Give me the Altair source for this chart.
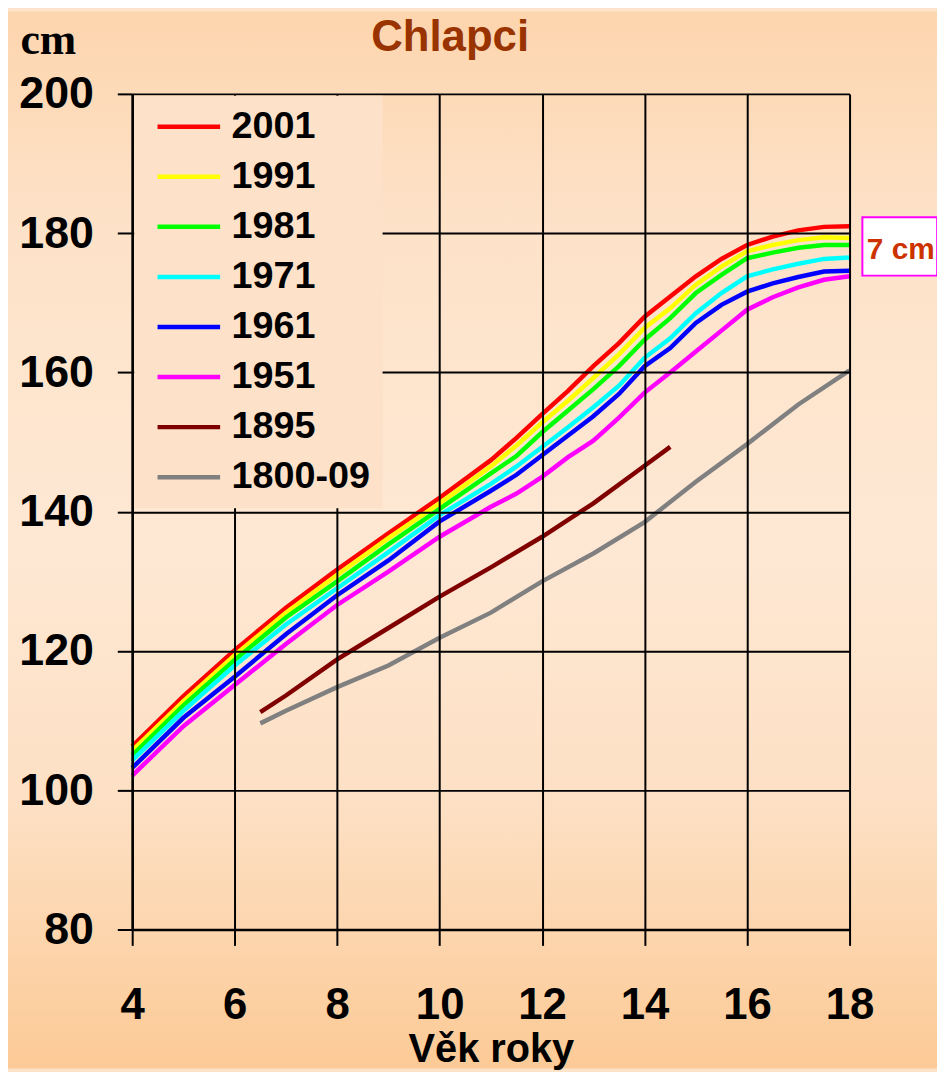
import altair as alt
import pandas as pd

# ---------------- data ----------------
ages_modern = [4, 5, 6, 7, 8, 9, 10, 11, 11.5, 12, 12.5, 13, 13.5, 14, 14.5, 15, 15.5, 16, 16.5, 17, 17.5, 18]
h_2001 = [106.3, 113.5, 120.1, 126.2, 131.7, 136.9, 142.0, 147.4, 150.6, 154.0, 157.3, 160.9, 164.2, 168.0, 170.9, 173.8, 176.3, 178.3, 179.5, 180.4, 180.9, 181.0]
h_1991 = [105.7, 112.8, 119.4, 125.5, 130.9, 136.2, 141.2, 146.5, 149.5, 152.8, 155.9, 159.2, 162.6, 166.4, 169.2, 172.6, 175.2, 177.4, 178.3, 179.0, 179.4, 179.3]
h_1981 = [105.0, 112.2, 118.7, 124.8, 130.0, 135.3, 140.4, 145.5, 148.0, 151.4, 154.5, 157.6, 160.9, 164.7, 167.8, 171.4, 174.0, 176.4, 177.2, 177.9, 178.3, 178.3]
h_1971 = [104.3, 111.4, 117.9, 123.8, 129.0, 134.2, 139.5, 144.0, 146.5, 149.3, 152.1, 155.0, 158.1, 162.1, 164.9, 168.5, 171.4, 173.8, 174.8, 175.6, 176.3, 176.5]
h_1961 = [103.2, 110.4, 116.3, 122.4, 128.0, 133.0, 138.6, 143.0, 145.3, 148.1, 150.9, 153.7, 156.9, 160.9, 163.5, 167.1, 169.7, 171.6, 172.8, 173.7, 174.5, 174.6]
h_1951 = [102.1, 109.2, 115.1, 121.0, 126.6, 131.4, 136.4, 140.7, 142.6, 145.0, 147.8, 150.2, 153.5, 157.1, 160.0, 163.0, 166.0, 169.0, 170.8, 172.2, 173.3, 173.8]

ages_1895 = [6.5, 7, 8, 9, 10, 11, 12, 13, 14, 14.5]
h_1895 = [111.2, 113.6, 118.8, 123.3, 127.8, 132.0, 136.4, 141.2, 146.6, 149.3]

ages_1800 = [6.5, 7, 8, 9, 10, 11, 12, 13, 14, 15, 16, 17, 18]
h_1800 = [109.6, 111.4, 114.8, 117.9, 121.9, 125.5, 130.0, 134.0, 138.5, 144.3, 149.7, 155.4, 160.3]

series_names = ["2001", "1991", "1981", "1971", "1961", "1951", "1895", "1800-09"]
series_colors = ["#FF0000", "#FFFF00", "#00FF00", "#00FFFF", "#0000FF", "#FF00FF", "#800000", "#808080"]

x_ticks = [4, 6, 8, 10, 12, 14, 16, 18]
y_ticks = [80, 100, 120, 140, 160, 180, 200]

chart_title = "Chlapci"
note_label = ["7 cm"]
note_box_age = [18.25]
note_box_age2 = [19.71]
note_box_h = [182.3]
note_box_h2 = [173.9]
note_text_age = [19.0]
note_text_h = [176.3]

# ---------------- tables ----------------
rows = []
for name, ages, hs in [
    ("2001", ages_modern, h_2001), ("1991", ages_modern, h_1991),
    ("1981", ages_modern, h_1981), ("1971", ages_modern, h_1971),
    ("1961", ages_modern, h_1961), ("1951", ages_modern, h_1951),
    ("1895", ages_1895, h_1895), ("1800-09", ages_1800, h_1800),
]:
    for a, h in zip(ages, hs):
        rows.append({"series": name, "age": a, "height": h})
df = pd.DataFrame(rows)

box_df = pd.DataFrame({"age": note_box_age, "age2": note_box_age2,
                       "height": note_box_h, "height2": note_box_h2})
text_df = pd.DataFrame({"age": note_text_age, "height": note_text_h, "label": note_label})

W, H = 722, 841
PAD = {"left": 125, "top": 83, "right": 88, "bottom": 140}
FONT = "Liberation Sans"

x_scale = alt.Scale(domain=[4, 18], nice=False, zero=False)
y_scale = alt.Scale(domain=[80, 200], nice=False, zero=False)

grad = alt.LinearGradient(
    gradient="linear",
    stops=[
        alt.GradientStop(offset=0, color="#FDD5AE"),
        alt.GradientStop(offset=0.2, color="#FDE2C8"),
        alt.GradientStop(offset=0.5, color="#FEE8D4"),
        alt.GradientStop(offset=0.75, color="#FDE0C4"),
        alt.GradientStop(offset=1, color="#FCCA96"),
    ],
    x1=0, x2=0, y1=0, y2=1,
)

bg = alt.Chart(pd.DataFrame({"k": [0]})).mark_rect(fill=grad, clip=False).encode(
    x=alt.value(-PAD["left"]), x2=alt.value(W + PAD["right"]),
    y=alt.value(-PAD["top"]), y2=alt.value(H + PAD["bottom"]),
)

title_mark = alt.Chart(pd.DataFrame({"t": [chart_title]})).mark_text(
    font=FONT, fontSize=44, fontWeight="bold", color="#993300",
    align="center", baseline="alphabetic", clip=False,
).encode(x=alt.value(W / 2 - 41), y=alt.value(-43), text="t:N")

x_axis = alt.Axis(
    values=x_ticks, grid=True, gridColor="black", gridWidth=2, gridOpacity=1,
    domainColor="black", domainWidth=2.5, tickColor="black", tickWidth=2, tickSize=16,
    labelFont=FONT, labelFontWeight="bold", labelFontSize=44, labelColor="black",
    labelBaseline="alphabetic", labelPadding=74, labelFlush=False, labelOverlap=False,
    title="Věk roky", titleFont=FONT, titleFontSize=40, titleFontWeight="bold",
    titleColor="black", titleX=W / 2, titleY=133, titleBaseline="alphabetic",
    titleAlign="center", zindex=1,
)
y_axis = alt.Axis(
    values=y_ticks, grid=True, gridColor="black", gridWidth=2, gridOpacity=1,
    domainColor="black", domainWidth=2.5, tickColor="black", tickWidth=2, tickSize=15,
    labelFont=FONT, labelFontWeight="bold", labelFontSize=45, labelColor="black",
    labelPadding=24, labelOverlap=False,
    title="cm", titleFont="Liberation Serif", titleFontSize=44, titleFontWeight="bold",
    titleColor="black", titleAngle=0, titleAlign="left", titleBaseline="alphabetic",
    titleX=-113, titleY=-41, zindex=1,
)

lines = alt.Chart(df).mark_line(strokeWidth=4.5).encode(
    x=alt.X("age:Q", scale=x_scale, axis=x_axis),
    y=alt.Y("height:Q", scale=y_scale, axis=y_axis),
    color=alt.Color(
        "series:N",
        scale=alt.Scale(domain=series_names, range=series_colors),
        legend=alt.Legend(
            title=None, orient="none", legendX=2, legendY=2,
            symbolType="stroke", symbolSize=3969, symbolStrokeWidth=4.5,
            symbolOffset=9, clipHeight=38,
            labelFont=FONT, labelFontSize=38, labelFontWeight="bold", labelColor="black",
            labelOffset=9, rowPadding=12.4, padding=12,
            fillColor="#FDE2C9", zindex=2,
        ),
    ),
)

box = alt.Chart(box_df).mark_rect(fill="white", stroke="#FF00FF", strokeWidth=2, clip=False).encode(
    x=alt.X("age:Q", scale=x_scale), x2="age2:Q",
    y=alt.Y("height:Q", scale=y_scale), y2="height2:Q",
)
note = alt.Chart(text_df).mark_text(
    font=FONT, fontSize=30, fontWeight="bold", color="#CC3300",
    align="center", baseline="alphabetic", clip=False,
).encode(
    x=alt.X("age:Q", scale=x_scale), y=alt.Y("height:Q", scale=y_scale), text="label:N",
)

chart = alt.layer(bg, title_mark, lines, box, note).properties(
    width=W, height=H,
    padding=PAD,
    autosize=alt.AutoSizeParams(type="none"),
    background="#FDE3CA",
).configure_view(stroke=None)

chart.save("out.html", embed_options={"renderer": "svg", "actions": False})
